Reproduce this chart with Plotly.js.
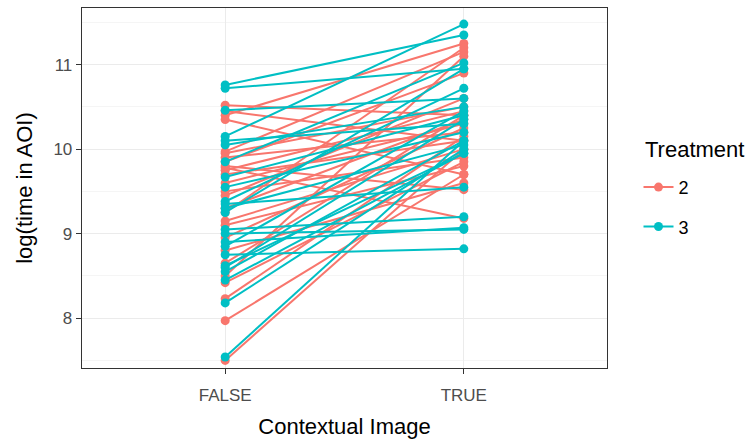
<!DOCTYPE html>
<html>
<head>
<meta charset="utf-8">
<script src="https://cdn.plot.ly/plotly-3.0.1.min.js"></script>
<style>html,body{margin:0;padding:0;background:#fff;}#chart{width:750px;height:443px;}</style>
</head>
<body>
<div id="chart"></div>
<script>
// Categories on the x axis
var categories = ["FALSE", "TRUE"];
// Treatment groups
var treatments = ["2", "3"];
// Treatment 2: log(time in AOI) for FALSE and TRUE, paired by subject
var t2False = [10.52, 10.40, 10.35, 9.78, 9.97, 9.90, 9.85, 9.80, 9.75, 9.70, 9.60, 9.50, 9.45, 9.30, 9.25, 9.15, 9.10, 8.95, 8.80, 8.65, 8.42, 8.23, 7.97, 7.50, 9.95, 10.45, 8.50];
var t2True  = [10.40, 11.25, 9.70, 9.18, 11.15, 10.20, 10.90, 9.52, 10.45, 10.10, 10.30, 9.90, 10.60, 10.35, 11.20, 10.00, 9.80, 10.25, 9.60, 10.40, 9.85, 10.15, 9.70, 10.00, 10.50, 10.10, 11.10];
// Treatment 3
var t3False = [10.76, 10.72, 10.46, 10.15, 10.10, 10.05, 9.67, 9.55, 9.38, 9.35, 9.30, 9.05, 9.00, 8.90, 8.85, 8.75, 8.60, 8.55, 8.45, 8.18, 7.54, 9.25, 9.85, 8.62];
var t3True  = [11.35, 10.95, 10.60, 11.48, 10.30, 10.50, 10.40, 10.20, 10.72, 9.55, 10.05, 9.20, 9.05, 9.07, 10.45, 8.82, 10.35, 10.10, 9.95, 10.00, 10.10, 10.95, 11.02, 9.95];
// Axis ticks
var yTicks = [8, 9, 10, 11];
var yTickLabels = ["8", "9", "10", "11"];

var colors = {"2": "#F8766D", "3": "#00BFC4"};
var traces = [];
function addGroup(name, f, t) {
  for (var i = 0; i < f.length; i++) {
    traces.push({
      type: "scatter", mode: "lines+markers",
      x: categories, y: [f[i], t[i]],
      name: name, legendgroup: name, showlegend: i === 0,
      line: {color: colors[name], width: 2},
      marker: {color: colors[name], size: 9},
      hoverinfo: "x+y+name"
    });
  }
}
addGroup(treatments[0], t2False, t2True);
addGroup(treatments[1], t3False, t3True);

var layout = {
  width: 750, height: 443,
  margin: {l: 82, r: 143, t: 8, b: 75},
  paper_bgcolor: "#ffffff", plot_bgcolor: "#ffffff",
  font: {family: "Liberation Sans, Arial, sans-serif", color: "#000"},
  showlegend: true,
  xaxis: {
    type: "category", range: [-0.6, 1.6],
    showgrid: true, gridcolor: "#EBEBEB", gridwidth: 1.2,
    zeroline: false, showline: true, linecolor: "#333333", linewidth: 1.3, mirror: true,
    ticks: "outside", ticklen: 5, tickcolor: "#333333", tickwidth: 1.2,
    ticklabelstandoff: 6,
    tickfont: {size: 17, color: "#4D4D4D"},
    title: {text: "Contextual Image", font: {size: 22, color: "#000"}, standoff: 15}
  },
  yaxis: {
    range: [7.41, 11.67],
    tickvals: yTicks, ticktext: yTickLabels,
    showgrid: true, gridcolor: "#EBEBEB", gridwidth: 1.2,
    minor: {dtick: 0.5, showgrid: true, gridcolor: "#F2F2F2", gridwidth: 0.8, ticks: ""},
    zeroline: false, showline: true, linecolor: "#333333", linewidth: 1.3, mirror: true,
    ticks: "outside", ticklen: 5, tickcolor: "#333333", tickwidth: 1.2,
    tickfont: {size: 17, color: "#4D4D4D"},
    title: {text: "log(time in AOI)", font: {size: 22, color: "#000"}, standoff: 14}
  },
  legend: {
    x: 1.06, xanchor: "left", y: 0.553, yanchor: "top",
    font: {size: 18, color: "#000"},
    traceorder: "grouped", tracegroupgap: 13,
    bgcolor: "rgba(0,0,0,0)"
  },
  annotations: [{
    text: "Treatment", xref: "paper", yref: "paper",
    x: 1.0686, xanchor: "left", y: 0.6056, yanchor: "middle",
    showarrow: false, font: {size: 22, color: "#000"}
  }]
};
Plotly.newPlot("chart", traces, layout, {displayModeBar: false, staticPlot: true});
</script>
</body>
</html>
